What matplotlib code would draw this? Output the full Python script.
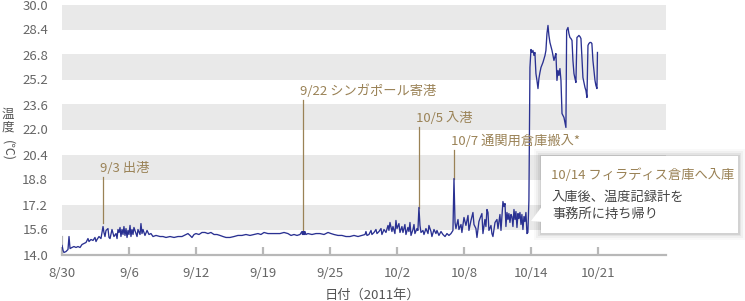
import numpy as np
import matplotlib
matplotlib.use("Agg")
import matplotlib.pyplot as plt
from matplotlib.patches import Rectangle, Polygon

plt.rcParams['font.family'] = ['Noto Sans CJK JP', 'DejaVu Sans']

# x = days on the chart's axis (ticks every 6.5), y = temperature (C)
days_a = [0, 0.10, 0.19, 0.39, 0.58, 0.68, 0.78, 0.97, 1.16, 1.36, 1.55, 1.75, 1.94, 2.13,
          2.33, 2.52, 2.62, 2.81, 3.01, 3.20, 3.30, 3.40, 3.59, 3.78, 3.98, 4.07, 4.17, 4.27,
          4.46, 4.56, 4.66, 4.85, 5.04, 5.24, 5.34, 5.43, 5.53, 5.63, 5.72, 5.82, 5.92, 6.01,
          6.11, 6.21, 6.31, 6.40, 6.50, 6.60, 6.69, 6.79, 6.89, 6.98, 7.18, 7.28, 7.37, 7.57,
          7.66, 7.76, 7.86, 8.05, 8.25, 8.44, 8.63, 8.83, 9.12, 9.51]
temp_a = [14.58, 14.26, 14.13, 14.19, 14.32, 15.15, 14.38, 14.45, 14.51, 14.45, 14.51, 14.45,
          14.64, 14.70, 14.77, 15.02, 14.83, 14.96, 14.90, 15.09, 14.83, 14.96, 15.15, 15.02,
          15.79, 15.41, 15.15, 15.54, 15.66, 15.09, 15.02, 15.60, 15.15, 15.34, 15.02, 15.60,
          15.41, 15.73, 15.15, 15.60, 15.28, 15.79, 15.22, 15.66, 15.09, 15.54, 15.28, 15.86,
          15.15, 15.60, 15.28, 15.73, 15.34, 15.15, 15.60, 15.28, 15.98, 15.34, 15.60, 15.22,
          15.54, 15.28, 15.34, 15.15, 15.22, 15.15]

days_b = [9.80, 10.09, 10.48, 10.87, 11.25, 11.64, 12.03, 12.22, 12.42, 12.61, 12.81, 13.00,
          13.29, 13.58, 13.87, 14.16, 14.45, 14.75, 15.04, 15.33, 15.62, 15.91, 16.30, 16.69,
          17.07, 17.46, 17.85, 18.24, 18.63, 19.01, 19.30, 19.60, 19.98, 20.37, 20.76, 21.15,
          21.54, 21.92]
temp_b = [15.15, 15.09, 15.15, 15.09, 15.15, 15.15, 15.28, 15.34, 15.22, 15.09, 15.28, 15.34,
          15.28, 15.41, 15.41, 15.34, 15.41, 15.28, 15.28, 15.22, 15.15, 15.09, 15.09, 15.15,
          15.22, 15.22, 15.28, 15.22, 15.28, 15.34, 15.28, 15.41, 15.34, 15.34, 15.34, 15.34,
          15.41, 15.34]

days_c = [22.22, 22.51, 22.80, 23.09, 23.28, 23.33, 23.38, 23.43, 23.48, 23.53, 23.57, 23.67,
          23.86, 24.25, 24.64, 25.03, 25.42, 25.81, 26.10, 26.39, 26.78, 27.16, 27.55, 27.94,
          28.33, 28.72, 29.10, 29.40, 29.49, 29.59, 29.78, 29.98, 30.07, 30.27, 30.46, 30.56,
          30.75, 30.95, 31.04, 31.24, 31.43, 31.63, 31.72, 31.82, 32.01, 32.11, 32.30, 32.40,
          32.50, 32.69, 32.79]
temp_c = [15.22, 15.28, 15.22, 15.28, 15.47, 15.28, 15.47, 15.28, 15.47, 15.28, 15.47, 15.28,
          15.34, 15.28, 15.34, 15.34, 15.28, 15.41, 15.34, 15.28, 15.22, 15.22, 15.15, 15.15,
          15.22, 15.15, 15.22, 15.28, 15.47, 15.22, 15.28, 15.54, 15.28, 15.41, 15.60, 15.34,
          15.47, 15.66, 15.28, 15.60, 15.41, 15.86, 15.54, 16.05, 15.47, 15.79, 15.34, 16.18,
          15.66, 15.98, 15.41]

days_d = [32.98, 33.08, 33.27, 33.37, 33.56, 33.66, 33.76, 33.86, 34.05, 34.15, 34.24, 34.44,
          34.53, 34.63, 34.73, 34.83, 35.02, 35.12, 35.31, 35.51, 35.60, 35.80, 35.89, 36.09,
          36.28, 36.38, 36.57, 36.77, 36.96, 37.16, 37.35, 37.54, 37.74, 37.93, 38.03, 38.13,
          38.22, 38.42, 38.51, 38.71, 38.80, 39.00, 39.19, 39.39, 39.48, 39.68, 39.87, 39.97,
          40.16, 40.26, 40.45, 40.55, 40.74, 40.84, 41.03, 41.13, 41.23, 41.33, 41.42, 41.62,
          41.71, 41.81, 42.01, 42.20, 42.30, 42.49, 42.59, 42.78, 42.88, 42.98, 43.07, 43.17,
          43.27, 43.36, 43.46, 43.56, 43.65, 43.75, 43.85, 43.95, 44.04, 44.14, 44.24, 44.33,
          44.43, 44.53, 44.62, 44.72, 44.82, 44.91, 45.01, 45.11, 45.20, 45.30]
temp_d = [15.79, 15.41, 15.92, 15.28, 15.73, 15.47, 16.05, 15.22, 15.60, 15.92, 15.34, 15.66,
          15.54, 17.01, 15.86, 15.41, 15.54, 15.28, 15.66, 15.34, 15.86, 15.47, 15.15, 15.60,
          15.34, 15.54, 15.22, 15.47, 15.28, 15.15, 15.34, 15.22, 15.34, 15.54, 18.86, 16.05,
          15.66, 16.24, 15.60, 15.92, 15.41, 16.37, 15.86, 16.50, 15.54, 16.18, 16.69, 15.92,
          15.66, 15.09, 16.11, 16.30, 16.62, 15.34, 16.24, 15.79, 16.88, 16.69, 15.54, 15.86,
          15.34, 15.15, 16.05, 16.24, 15.66, 16.56, 15.54, 17.39, 17.07, 17.26, 15.79, 16.69,
          16.24, 16.62, 16.05, 16.56, 16.43, 15.79, 16.88, 16.24, 16.75, 15.73, 16.62, 16.30,
          16.69, 15.92, 16.56, 15.60, 16.43, 16.11, 16.69, 15.34, 15.41, 17.46]

days_e = [45.40, 45.50, 45.59, 45.69, 45.79, 45.88, 45.98, 46.08, 46.18, 46.27, 46.37, 46.47,
          46.66, 46.86, 46.95, 47.05, 47.15, 47.24, 47.34, 47.44, 47.54, 47.63, 47.73, 47.83,
          47.92, 48.02, 48.12, 48.21, 48.31, 48.41, 48.51, 48.60, 48.70, 48.80, 48.89, 48.96,
          49.09, 49.18, 49.28, 49.38, 49.48, 49.57, 49.67, 49.77, 49.86, 49.96, 50.06, 50.15,
          50.25, 50.35, 50.45, 50.54, 50.64, 50.74, 50.83, 50.93, 51.03, 51.12, 51.22, 51.32,
          51.41, 51.51, 51.61, 51.71, 51.80, 51.90, 51.93, 51.95]
temp_e = [25.97, 27.12, 26.93, 27.06, 26.74, 26.93, 25.58, 25.14, 24.62, 25.26, 25.65, 25.97,
          26.29, 26.74, 27.06, 28.14, 28.66, 28.02, 27.57, 27.31, 27.06, 26.74, 26.42, 26.67,
          26.86, 25.14, 25.78, 25.46, 25.90, 25.14, 23.02, 22.90, 22.77, 22.45, 22.13, 28.34,
          28.53, 28.14, 27.89, 27.82, 27.70, 26.42, 25.58, 25.26, 25.01, 27.89, 27.95, 28.02,
          27.95, 27.82, 26.54, 25.33, 25.01, 24.69, 24.50, 24.05, 27.38, 27.50, 27.57, 27.57,
          27.50, 26.42, 25.78, 25.14, 24.82, 24.62, 25.97, 26.93]

tick_pos = [0, 6.5, 13, 19.5, 26, 32.5, 39, 45.5, 52]
tick_labels = ['8/30', '9/6', '9/12', '9/19', '9/25', '10/2', '10/8', '10/14', '10/21']
y_ticks = [14.0, 15.6, 17.2, 18.8, 20.4, 22.0, 23.6, 25.2, 26.8, 28.4, 30.0]

# event markers: label, x of leader, leader top, leader bottom
events = ['9/3 出港', '9/22 シンガポール寄港', '10/5 入港', '10/7 通関用倉庫搬入*']
event_x = [3.98, 23.38, 34.63, 38.03]
event_top = [18.93, 23.86, 22.13, 20.66]
event_bottom = [16.0, 15.5, 17.0, 18.86]

days = np.concatenate([days_a, days_b, days_c, days_d, days_e])
temps = np.concatenate([temp_a, temp_b, temp_c, temp_d, temp_e])

gold = '#9a8256'
grey_txt = '#666666'
axis_grey = '#b8b8b8'

W, H = 745, 301
fig = plt.figure(figsize=(W / 100, H / 100), dpi=100)
ax = fig.add_axes([62 / W, 1 - 254.5 / H, 604 / W, 250 / H])

for i in range(1, len(y_ticks) - 1, 2):
    ax.axhspan(y_ticks[i], y_ticks[i + 1], color='#e9e9e9', lw=0, zorder=0)

ax.plot(days, temps, color='#2a3192', lw=0.95, zorder=3)

for lab, x, t, b in zip(events, event_x, event_top, event_bottom):
    ax.plot([x, x], [b, t], color=gold, lw=0.9, zorder=2)
    ax.text(x - 0.3, t + 0.6, lab, color=gold, fontsize=9.5, ha='left', va='center')

ax.set_xlim(0, 58.6)
ax.set_ylim(14.0, 30.0)
ax.set_xticks(tick_pos)
ax.set_xticklabels(tick_labels)
ax.set_yticks(y_ticks)
ax.set_yticklabels(['%.1f' % v for v in y_ticks])
for s in ['top', 'right', 'left']:
    ax.spines[s].set_visible(False)
ax.spines['bottom'].set_color(axis_grey)
ax.spines['bottom'].set_linewidth(1.6)
ax.tick_params(axis='x', direction='in', length=6, width=1.6, color=axis_grey,
               labelsize=9.5, labelcolor=grey_txt, pad=9)
ax.tick_params(axis='y', length=0, labelsize=9.5, labelcolor=grey_txt, pad=10)
ax.axvline(0, ymin=0, ymax=0.07, color=axis_grey, lw=1.6)

# axis titles
fig.text(8 / W, 1 - 121 / H, '温\n度', fontsize=9, color='#555555', ha='center', va='center',
         linespacing=1.0)
fig.text(8 / W, 1 - 151 / H, '(℃)', fontsize=9, color='#555555', ha='center', va='center',
         rotation=-90)
fig.text(372 / W, 1 - 295 / H, '日付（2011年）', fontsize=9.5, color='#555555',
         ha='center', va='center')

# callout box
bx0, by0, bx1, by1 = 541, 156, 738, 233
for k, a in [(7, 0.025), (5, 0.035), (3, 0.05), (1.5, 0.07)]:
    fig.patches.append(Rectangle(((bx0 - k) / W, 1 - (by1 + k) / H), (bx1 - bx0 + 2 * k) / W,
                                 (by1 - by0 + 2 * k) / H, transform=fig.transFigure,
                                 facecolor='black', alpha=a, lw=0, zorder=5))
fig.patches.append(Rectangle((bx0 / W, 1 - by1 / H), (bx1 - bx0) / W, (by1 - by0) / H,
                             transform=fig.transFigure, facecolor='white', lw=0, zorder=6))
fig.patches.append(Polygon([(531 / W, 1 - 221 / H), (543 / W, 1 - 205 / H), (543 / W, 1 - 222 / H)],
                           closed=True, transform=fig.transFigure, facecolor='white', lw=0,
                           zorder=6))
fig.text(551 / W, 1 - 175 / H, '10/14 フィラディス倉庫へ入庫', fontsize=9.5, color=gold,
         ha='left', va='center', zorder=7)
fig.text(552 / W, 1 - 206 / H, '入庫後、温度記録計を\n事務所に持ち帰り', fontsize=9.5,
         color='#444444', ha='left', va='center', linespacing=1.45, zorder=7)

fig.savefig('out.png', dpi=100)
